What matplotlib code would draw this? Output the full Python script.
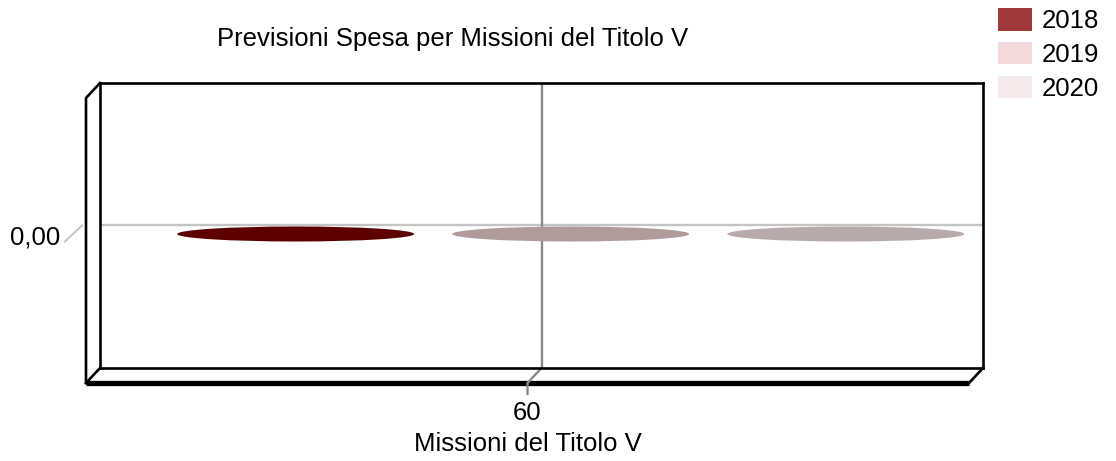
import matplotlib
matplotlib.use("Agg")
import matplotlib.pyplot as plt
import matplotlib.transforms as mtransforms
from matplotlib.patches import Ellipse, Patch
from matplotlib.lines import Line2D

# ---- data -------------------------------------------------------------
title = "Previsioni Spesa per Missioni del Titolo V"
x_title = "Missioni del Titolo V"
categories = ["60"]
series = ["2018", "2019", "2020"]
values = [0.0, 0.0, 0.0]          # one value per series for category "60"
y_ticks = [0.0]

# ---- style ------------------------------------------------------------
legend_colors = ["#a03a3a", "#f2dada", "#f6eaea"]
face_colors = ["#5c0000", "#b09b9b", "#b8aaaa"]

W, H, DPI = 1116, 461, 100
FS = 18.5
FS_PX = FS * DPI / 72
plt.rcParams["font.family"] = ["Liberation Sans", "DejaVu Sans"]

fig = plt.figure(figsize=(W / DPI, H / DPI), dpi=DPI)
fig.patch.set_facecolor("white")

# back wall of the pseudo-3D box (pixel geometry)
L, R, T, B = 100, 983, 83, 368
AW, AH = R - L, B - T
ax = fig.add_axes([L / W, 1 - B / H, AW / W, AH / H])
ax.set_xlim(-0.5, 0.5)
ax.set_ylim(-1, 1)
ax.set_xticks([])
ax.set_yticks([])
for s in ax.spines.values():
    s.set_linewidth(1.9)
    s.set_color("black")

# depth of the box in pixels (left / down)
DX, DY = -14, 15
dxa, dya = DX / AW, -DY / AH


def off(tr, x=0, y=0):
    return mtransforms.offset_copy(tr, fig=fig, x=x, y=y, units="dots")


# side and floor edges of the box
frame = dict(color="black", lw=1.9, transform=ax.transAxes, clip_on=False,
             solid_capstyle="projecting")
ax.add_line(Line2D([0, dxa, dxa], [1, 1 + dya, dya], **frame))
ax.add_line(Line2D([0, dxa], [0, dya], **frame))
ax.add_line(Line2D([1, 1 + dxa], [0, dya], **frame))
ax.add_line(Line2D([dxa, 1 + dxa], [dya, dya], color="black", lw=3.8,
                   transform=ax.transAxes, clip_on=False, solid_capstyle="butt"))

# value gridline(s), slanted ticks and labels
ytr = ax.get_yaxis_transform()
for yv in y_ticks:
    ax.axhline(yv, color="#c4c4c4", lw=1.7, zorder=1)
    p0 = ytr.transform((-18 / AW, yv))
    p1 = p0 + (-17, -16)
    fig.add_artist(Line2D([p0[0], p1[0]], [p0[1], p1[1]], color="#c4c4c4", lw=1.4,
                          transform=mtransforms.IdentityTransform()))
    ax.text(-40 / AW, yv, f"{yv:.2f}".replace(".", ","), transform=off(ytr, 0, -12),
            ha="right", va="center", fontsize=FS)

# category gridline, floor segment, tick and label
xtr = ax.get_xaxis_transform()
for i, cat in enumerate(categories):
    ax.axvline(i, color="#8a8a8a", lw=1.7, zorder=1)
    ax.add_line(Line2D([i, i + DX / AW, i + DX / AW], [0, dya, dya - 11 / AH],
                       color="#8a8a8a", lw=1.7, transform=xtr, clip_on=False))
    ax.text(i + DX / AW, dya, cat, transform=off(xtr, 0, -30),
            ha="center", va="center", fontsize=FS)

ax.text(DX / AW, dya, x_title, transform=off(xtr, 0, -61),
        ha="center", va="center", fontsize=FS)

# bars (zero height: only the flat cap of each cylinder shows)
bar_w = 237 / AW
spacing = 0.3115
group_shift = 0.041
cap_h = 15 / AH * 2.0
for i, (v, c) in enumerate(zip(values, face_colors)):
    cx = group_shift + (i - 1) * spacing
    ax.add_patch(Ellipse((cx, v), bar_w, cap_h, facecolor=c, edgecolor="none",
                         transform=off(ax.transData, -7, -8.5), zorder=3))

# title
fig.text(453 / W, 1 - 39 / H, title, ha="center", va="center", fontsize=FS)

# legend
handles = [Patch(facecolor=c, edgecolor="none", label=s)
           for s, c in zip(series, legend_colors)]
fig.legend(handles=handles, loc="upper left", bbox_to_anchor=(998 / W, 1 - 8 / H),
           frameon=False, borderpad=0, borderaxespad=0, fontsize=FS,
           handlelength=34 / FS_PX, handleheight=25 / FS_PX,
           handletextpad=10 / FS_PX, labelspacing=0.34)

fig.savefig("out.png", dpi=DPI, facecolor="white")
